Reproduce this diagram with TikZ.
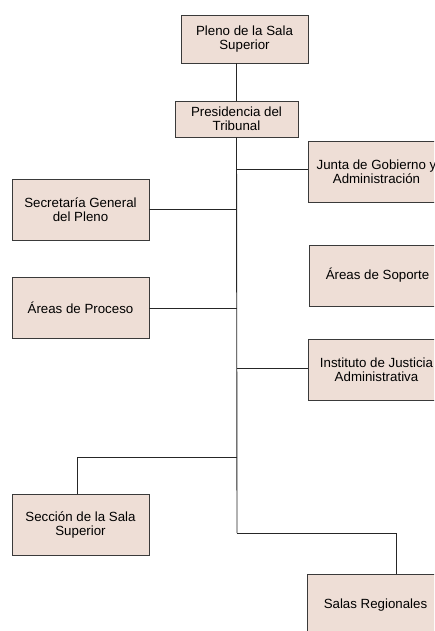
\documentclass[tikz,border=0pt]{standalone}
\usepackage{fontspec}
\setmainfont{Liberation Sans}
\definecolor{boxfill}{HTML}{EEDED6}
\definecolor{boxline}{HTML}{3A3A3A}
\begin{document}
\begin{tikzpicture}[x=1pt,y=-1pt,
  orgbox/.style={draw=boxline,fill=boxfill,line width=0.9pt,align=center,
    font=\fontsize{13.3}{13.6}\selectfont,inner sep=0pt,
    minimum width=137pt,minimum height=61pt},
  link/.style={draw=black!85,line width=0.9pt}]
\clip (0,0) rectangle (434,631);
\fill[white] (0,0) rectangle (434,631);
\node[orgbox,minimum width=127pt,minimum height=48pt] (pleno) at (244.5,39) {Pleno de la Sala\\Superior};
\node[orgbox,minimum width=123pt,minimum height=36pt] (pres) at (236.5,119) {Presidencia del\\Tribunal};
\node[orgbox] (junta) at (376.5,172) {Junta de Gobierno y\\Administración};
\node[orgbox] (soporte) at (377.5,275.5) {Áreas de Soporte};
\node[orgbox] (inst) at (376.5,370) {Instituto de Justicia\\Administrativa};
\node[orgbox] (secr) at (80.5,209.5) {Secretaría General\\del Pleno};
\node[orgbox] (proc) at (80.5,308) {Áreas de Proceso};
\node[orgbox] (secc) at (80.5,525) {Sección de la Sala\\Superior};
\node[orgbox] (salas) at (375.5,605) {Salas Regionales};
\coordinate (tb) at (237,533);
\coordinate (tsec) at (237,457);
\draw[link] (pleno.south -| pres.south) -- (pres.north);
\draw[link] (pres.south) -- (tb);
\draw[link] ([yshift=3pt]junta.west) -- ([yshift=3pt]junta.west -| pres.south);
\draw[link] (secr.east) -- (secr.east -| pres.south);
\draw[link] (proc.east) -- (proc.east -| pres.south);
\draw[link] ([yshift=2pt]inst.west) -- ([yshift=2pt]inst.west -| pres.south);
\draw[link] (tsec) -| ([xshift=-3.5pt]secc.north);
\draw[link] (tb) -| ([xshift=20.5pt]salas.north);
\end{tikzpicture}
\end{document}
